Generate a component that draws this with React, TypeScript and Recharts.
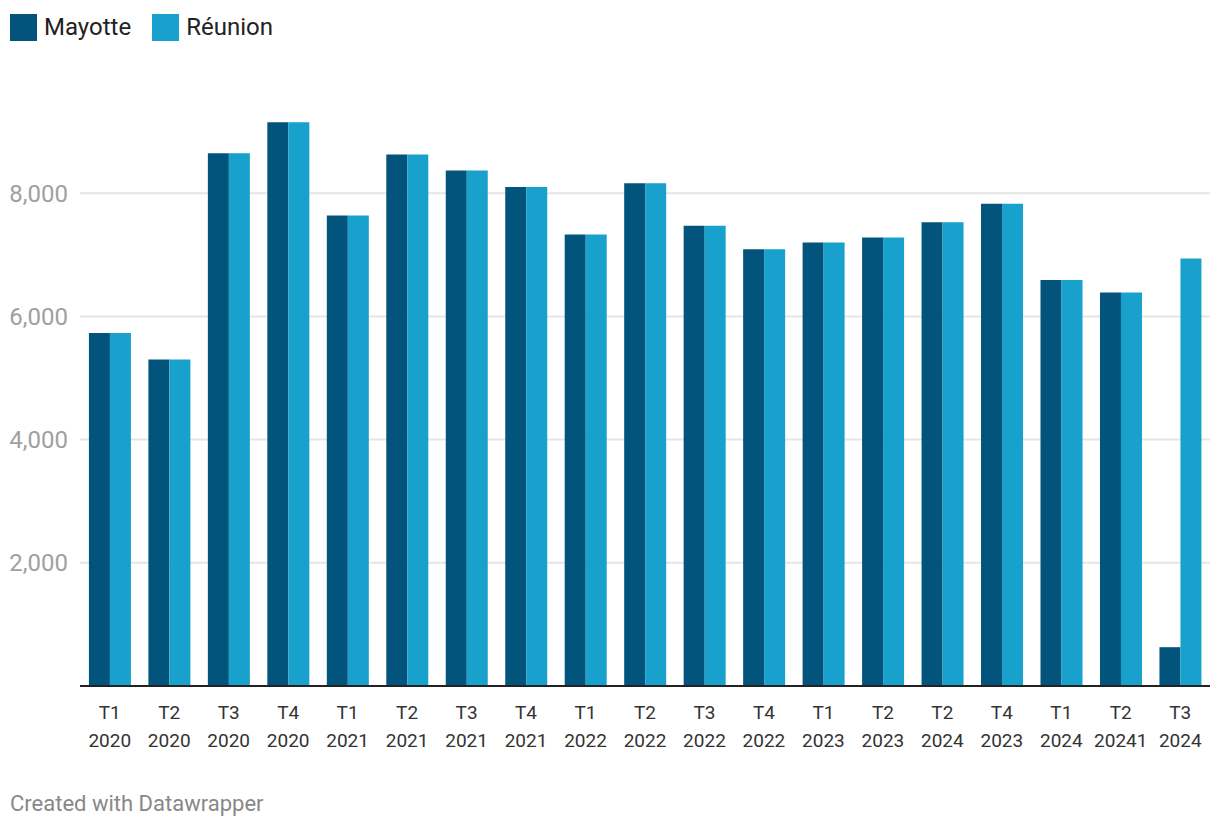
import { BarChart, Bar, XAxis, YAxis, CartesianGrid } from "recharts";

const categories = [
  "T1 2020", "T2 2020", "T3 2020", "T4 2020",
  "T1 2021", "T2 2021", "T3 2021", "T4 2021",
  "T1 2022", "T2 2022", "T3 2022", "T4 2022",
  "T1 2023", "T2 2023", "T2 2024", "T4 2023",
  "T1 2024", "T2 20241", "T3 2024",
];
const mayotte = [5730, 5300, 8650, 9150, 7640, 8630, 8370, 8100, 7330, 8160, 7470, 7090, 7200, 7280, 7530, 7830, 6590, 6390, 630];
const reunion = [5730, 5300, 8650, 9150, 7640, 8630, 8370, 8100, 7330, 8160, 7470, 7090, 7200, 7280, 7530, 7830, 6590, 6390, 6940];
const yTicks = [2000, 4000, 6000, 8000];

const data = categories.map((c, i) => ({ cat: c, mayotte: mayotte[i], reunion: reunion[i] }));

const DARK = "#02547c";
const LIGHT = "#18a1cd";

const CatTick = (props: any) => {
  const { x, y, payload } = props;
  const [q, yr] = String(payload.value).split(" ");
  return (
    <text x={x} y={y} textAnchor="middle" fill="#333" fontSize={19} fontFamily="Roboto">
      <tspan x={x} dy={33}>{q}</tspan>
      <tspan x={x} dy={28}>{yr}</tspan>
    </text>
  );
};

const LegendItem = ({ color, label }: { color: string; label: string }) => (
  <div style={{ display: "flex", alignItems: "center", marginRight: 21 }}>
    <div style={{ width: 27, height: 27, background: color, marginRight: 7 }} />
    <span style={{ fontSize: 24, color: "#222" }}>{label}</span>
  </div>
);

export default function App() {
  return (
    <div
      style={{
        position: "absolute",
        left: 0,
        top: 0,
        width: 1220,
        height: 830,
        background: "#fff",
        fontFamily: "Roboto",
      }}
    >
      <div style={{ position: "absolute", left: 10, top: 13, display: "flex" }}>
        <LegendItem color={DARK} label="Mayotte" />
        <LegendItem color={LIGHT} label="Réunion" />
      </div>
      <div style={{ position: "absolute", left: 0, top: 0 }}>
        <BarChart
          width={1220}
          height={770}
          data={data}
          margin={{ top: 70, right: 10, bottom: 0, left: 0 }}
          barCategoryGap="15%"
          barGap={0}
        >
          <CartesianGrid vertical={false} horizontalValues={yTicks} stroke="#e6e6e6" strokeWidth={2} />
          <XAxis
            dataKey="cat"
            interval={0}
            height={84}
            tickLine={false}
            tickSize={0}
            tickMargin={0}
            axisLine={{ stroke: "#222", strokeWidth: 2 }}
            tick={<CatTick />}
          />
          <YAxis
            width={80}
            domain={[0, 10000]}
            ticks={yTicks}
            axisLine={false}
            tickLine={false}
            tickSize={0}
            tickMargin={12}
            tick={{ fill: "#a0a0a0", fontSize: 24, fontFamily: "Roboto" }}
            tickFormatter={(v: number) => v.toLocaleString("en-US")}
          />
          <Bar dataKey="mayotte" fill={DARK} isAnimationActive={false} />
          <Bar dataKey="reunion" fill={LIGHT} isAnimationActive={false} />
        </BarChart>
      </div>
      <div style={{ position: "absolute", left: 10, top: 791, fontSize: 22, color: "#888" }}>
        Created with Datawrapper
      </div>
    </div>
  );
}
